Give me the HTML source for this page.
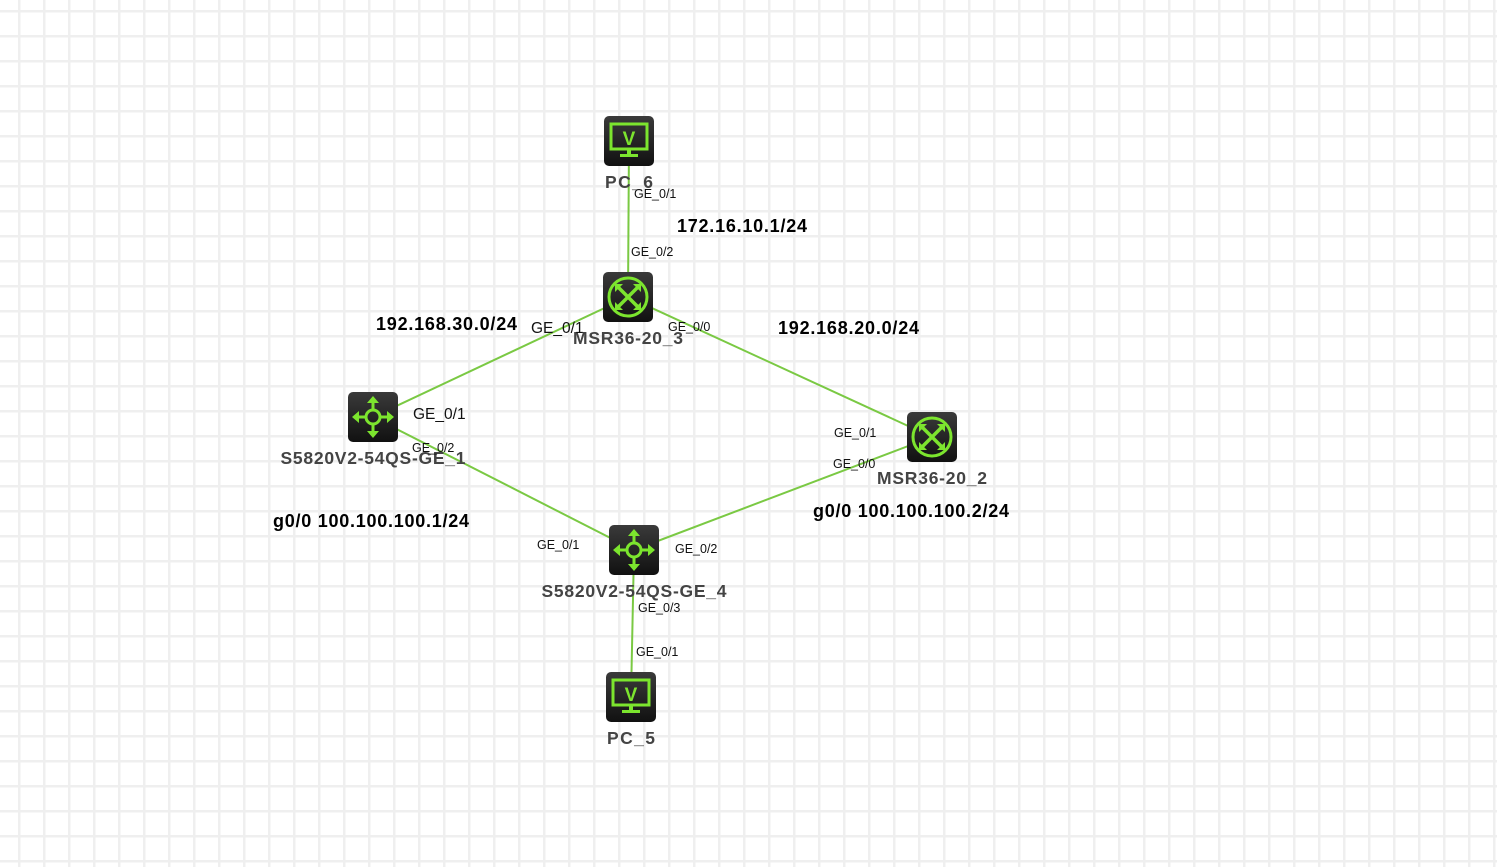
<!DOCTYPE html>
<html><head><meta charset="utf-8"><style>
html,body{margin:0;padding:0;background:#fff;}
svg{display:block;}
text{font-family:"Liberation Sans",Arial,sans-serif;}
.n{font-weight:bold;font-size:17.5px;fill:#444;text-anchor:middle;}
.ip{font-weight:bold;font-size:18px;fill:#000;}
.p{font-size:12.5px;fill:#111;}
</style></head><body>
<svg width="1497" height="867" viewBox="0 0 1497 867" xmlns="http://www.w3.org/2000/svg">
<defs>
<pattern id="g" x="18" y="10" width="25" height="25" patternUnits="userSpaceOnUse">
<rect x="0" y="0" width="2.5" height="25" fill="#efefef"/>
<rect x="0" y="0" width="25" height="2.5" fill="#efefef"/>
</pattern>
<linearGradient id="bg" x1="0" y1="0" x2="0" y2="1"><stop offset="0" stop-color="#3a3a3a"/><stop offset="1" stop-color="#111"/></linearGradient>
<g id="pc"><rect x="-25" y="-25" width="50" height="50" rx="5" fill="url(#bg)"/>
<rect x="-18" y="-17" width="36" height="25" fill="none" stroke="#7ce52e" stroke-width="3"/>
<text x="0" y="4" text-anchor="middle" font-size="19" font-weight="bold" fill="#7ce52e" style="font-family:'Liberation Sans',sans-serif">V</text>
<rect x="-2" y="8" width="4" height="5" fill="#7ce52e"/><rect x="-9" y="13" width="18" height="3" fill="#7ce52e"/></g>
<g id="rt"><rect x="-25" y="-25" width="50" height="50" rx="5" fill="url(#bg)"/>
<circle cx="0" cy="0" r="19" fill="none" stroke="#7ce52e" stroke-width="3"/>
<g stroke="#7ce52e" stroke-width="3.5" fill="none"><path d="M-10,-10 L10,10 M10,-10 L-10,10"/></g>
<g fill="#7ce52e"><path d="M-13,-13 h8 l-8,8z M13,-13 h-8 l8,8z M-13,13 h8 l-8,-8z M13,13 h-8 l8,-8z"/></g></g>
<g id="sw"><rect x="-25" y="-25" width="50" height="50" rx="5" fill="url(#bg)"/>
<circle cx="0" cy="0" r="7" fill="none" stroke="#7ce52e" stroke-width="3"/>
<g stroke="#7ce52e" stroke-width="3"><path d="M0,-7 V-17 M0,7 V17 M-7,0 H-17 M7,0 H17"/></g>
<g fill="#7ce52e"><path d="M0,-21 l-6,7 h12z M0,21 l-6,-7 h12z M-21,0 l7,-6 v12z M21,0 l-7,-6 v12z"/></g></g>
</defs>
<rect width="1497" height="867" fill="url(#g)"/>
<g stroke="#7ac943" stroke-width="2">
<line x1="629" y1="141" x2="628" y2="297"/>
<line x1="628" y1="297" x2="373" y2="417"/>
<line x1="628" y1="297" x2="932" y2="437"/>
<line x1="373" y1="417" x2="634" y2="550"/>
<line x1="932" y1="437" x2="634" y2="550"/>
<line x1="634" y1="550" x2="631" y2="697"/>
</g>
<use href="#pc" x="629" y="141"/>
<use href="#rt" x="628" y="297"/>
<use href="#sw" x="373" y="417"/>
<use href="#rt" x="932" y="437"/>
<use href="#sw" x="634" y="550"/>
<use href="#pc" x="631" y="697"/>
<text class="n" x="629" y="188" textLength="48" lengthAdjust="spacing">PC_6</text>
<text class="n" x="628" y="344" textLength="110" lengthAdjust="spacing">MSR36-20_3</text>
<text class="n" x="373" y="464" textLength="185" lengthAdjust="spacing">S5820V2-54QS-GE_1</text>
<text class="n" x="932" y="484" textLength="110" lengthAdjust="spacing">MSR36-20_2</text>
<text class="n" x="634" y="597" textLength="185" lengthAdjust="spacing">S5820V2-54QS-GE_4</text>
<text class="n" x="631" y="744" textLength="48" lengthAdjust="spacing">PC_5</text>
<text class="ip" x="677" y="232" textLength="130" lengthAdjust="spacing">172.16.10.1/24</text>
<text class="ip" x="376" y="330" textLength="141" lengthAdjust="spacing">192.168.30.0/24</text>
<text class="ip" x="778" y="334" textLength="141" lengthAdjust="spacing">192.168.20.0/24</text>
<text class="ip" x="273" y="527" textLength="196" lengthAdjust="spacing">g0/0 100.100.100.1/24</text>
<text class="ip" x="813" y="517" textLength="196" lengthAdjust="spacing">g0/0 100.100.100.2/24</text>
<text class="p" x="634" y="198">GE_0/1</text>
<text class="p" x="631" y="256">GE_0/2</text>
<text class="p" x="531" y="333" style="font-size:15.5px">GE_0/1</text>
<text class="p" x="668" y="331">GE_0/0</text>
<text class="p" x="413" y="419" style="font-size:15.5px">GE_0/1</text>
<text class="p" x="412" y="452">GE_0/2</text>
<text class="p" x="834" y="437">GE_0/1</text>
<text class="p" x="833" y="468">GE_0/0</text>
<text class="p" x="537" y="549">GE_0/1</text>
<text class="p" x="675" y="553">GE_0/2</text>
<text class="p" x="638" y="612">GE_0/3</text>
<text class="p" x="636" y="656">GE_0/1</text>
</svg>
</body></html>
